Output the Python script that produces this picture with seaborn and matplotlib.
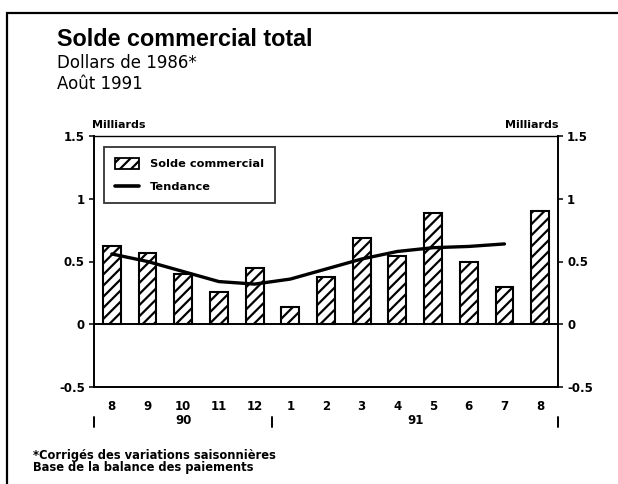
import pandas as pd
import seaborn as sns
import matplotlib.pyplot as plt
from matplotlib.patches import Patch, Rectangle
from matplotlib.lines import Line2D

# Data (billions of 1986 dollars)
months = ['8', '9', '10', '11', '12', '1', '2', '3', '4', '5', '6', '7', '8']
solde = [0.62, 0.57, 0.40, 0.26, 0.45, 0.14, 0.38, 0.69, 0.54, 0.89, 0.50, 0.30, 0.90]
tendance = [0.56, 0.50, 0.42, 0.34, 0.32, 0.36, 0.44, 0.52, 0.58, 0.61, 0.62, 0.64]
years = ['90', '91']
year_centers = [2, 8.5]
year_breaks = [-0.5, 4.5, 12.5]
yticks = [-0.5, 0, 0.5, 1, 1.5]
ytick_labels = ['-0.5', '0', '0.5', '1', '1.5']

WIDE = ['DejaVu Sans']


def main():
    df = pd.DataFrame({'pos': range(len(months)), 'Solde': solde})
    df_tend = pd.DataFrame({'pos': range(len(tendance)), 'Tendance': tendance})

    sns.set_style('white')
    plt.rcParams['font.family'] = ['Liberation Sans', 'DejaVu Sans']
    plt.rcParams['hatch.linewidth'] = 1.6
    plt.rcParams['text.color'] = 'black'
    plt.rcParams['xtick.color'] = 'black'
    plt.rcParams['ytick.color'] = 'black'
    plt.rcParams['xtick.labelcolor'] = 'black'
    plt.rcParams['ytick.labelcolor'] = 'black'

    fig = plt.figure(figsize=(6.18, 4.84), dpi=100)
    ax = fig.add_axes([94 / 618, 1 - 387 / 484, 464 / 618, 251 / 484])

    sns.barplot(data=df, x='pos', y='Solde', color='white', edgecolor='black',
                linewidth=1.5, width=0.5, hatch='///', ax=ax, saturation=1)
    sns.lineplot(data=df_tend, x='pos', y='Tendance', color='black',
                 linewidth=2.4, ax=ax)

    ax.axhline(0, color='black', linewidth=1.4)
    ax.set_xlim(-0.5, 12.5)
    ax.set_ylim(-0.5, 1.5)
    ax.set_xlabel('')
    ax.set_ylabel('')

    ax.set_xticks(range(len(months)))
    ax.set_xticklabels(months, fontsize=8.5, fontweight='bold', family=WIDE)
    ax.set_yticks(yticks)
    ax.set_yticklabels(ytick_labels, fontsize=8.5, fontweight='bold', family=WIDE)
    ax.tick_params(axis='both', direction='out', length=3.5, width=1.1,
                   color='black', labelcolor='black', pad=3)
    ax.tick_params(axis='x', pad=6)
    ax.tick_params(axis='y', labelright=True, right=True, left=True)
    for t in ax.yaxis.get_major_ticks():
        t.label2.set_fontfamily(WIDE)
        t.label2.set_fontweight('bold')
        t.label2.set_fontsize(8.5)

    for side in ['left', 'right', 'top', 'bottom']:
        ax.spines[side].set_visible(True)
        ax.spines[side].set_color('black')
        ax.spines[side].set_linewidth(1.4)
    ax.spines['top'].set_linewidth(1.0)

    # year separators and labels below the month ticks
    trans = ax.get_xaxis_transform()
    for xb in year_breaks:
        ax.plot([xb, xb], [-0.118, -0.16], transform=trans, color='black',
                linewidth=1.4, clip_on=False)
    for xc, yr in zip(year_centers, years):
        ax.text(xc, -0.133, yr, transform=trans, ha='center', va='center',
                fontsize=8.5, fontweight='bold', family=WIDE)

    # legend
    handles = [Patch(facecolor='white', edgecolor='black', hatch='///',
                     linewidth=1.3),
               Line2D([0], [0], color='black', linewidth=2.6)]
    leg = ax.legend(handles, ['Solde commercial', 'Tendance'],
                    loc='upper left', bbox_to_anchor=(0.0216, 0.956),
                    frameon=True, fancybox=False, edgecolor='black',
                    prop={'size': 8.2, 'weight': 'bold', 'family': WIDE},
                    handlelength=2.1, handleheight=1.1, labelspacing=1.05,
                    borderpad=0.95, handletextpad=1.0, borderaxespad=0)
    leg.get_frame().set_linewidth(1.3)

    # unit labels
    fig.text(92 / 618, 1 - 125 / 484, 'Milliards', fontsize=8,
             fontweight='bold', va='center', ha='left', family=WIDE)
    fig.text(558 / 618, 1 - 125 / 484, 'Milliards', fontsize=8,
             fontweight='bold', va='center', ha='right', family=WIDE)

    # titles
    fig.text(57 / 618, 1 - 40 / 484, 'Solde commercial total', fontsize=16.8,
             fontweight='bold', va='center', ha='left')
    fig.text(57 / 618, 1 - 63 / 484, 'Dollars de 1986*', fontsize=12,
             va='center', ha='left', family=WIDE)
    fig.text(57 / 618, 1 - 84 / 484, 'Août 1991', fontsize=12,
             va='center', ha='left', family=WIDE)

    # footnotes
    fig.text(33 / 618, 1 - 455 / 484, '*Corrigés des variations saisonnières',
             fontsize=8.3, fontweight='bold', va='center', ha='left', family=WIDE)
    fig.text(33 / 618, 1 - 467 / 484, 'Base de la balance des paiements',
             fontsize=8.3, fontweight='bold', va='center', ha='left', family=WIDE)

    # outer frame (top and left edges visible)
    fig.patches.append(Rectangle((7 / 618, -0.05), 1.2, 1 - 13 / 484 + 0.05,
                                 transform=fig.transFigure, fill=False,
                                 edgecolor='black', linewidth=1.6))

    fig.savefig('out.png', dpi=100)


if __name__ == "__main__":
    main()
